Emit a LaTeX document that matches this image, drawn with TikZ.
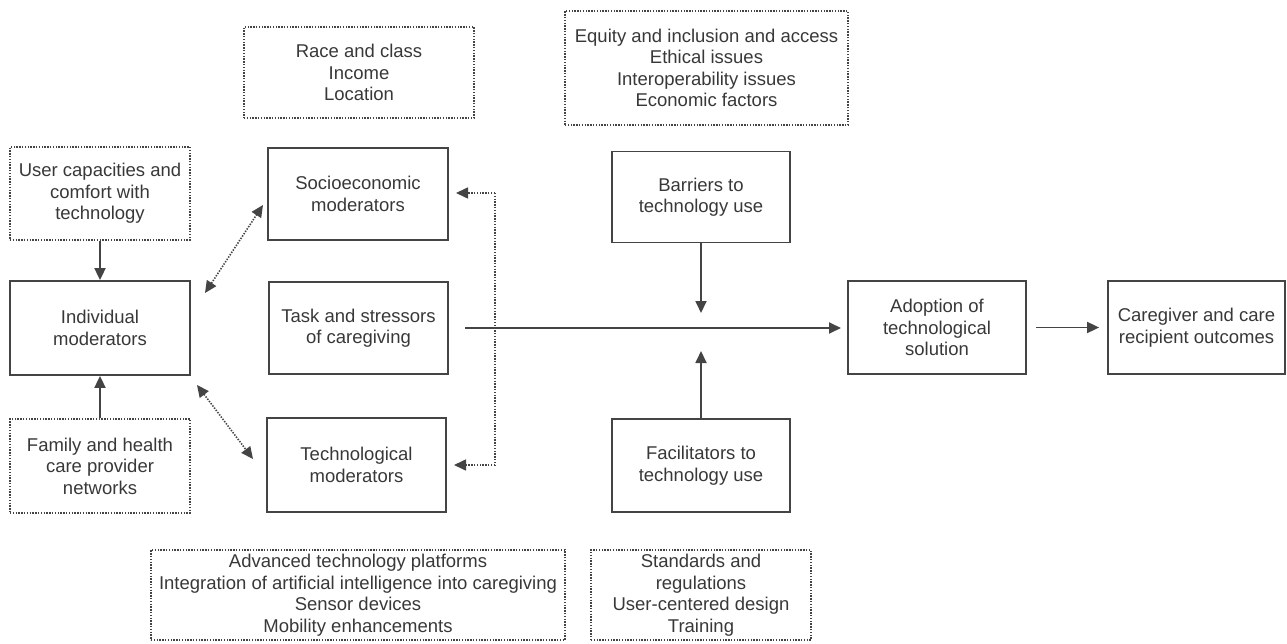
\documentclass[tikz,border=0pt]{standalone}
\usepackage{fontspec}
\setmainfont{Liberation Sans}
\usetikzlibrary{arrows.meta}
\definecolor{ln}{HTML}{444444}
\definecolor{tx}{HTML}{383838}
\tikzset{
  solidbox/.style={draw=ln, line width=1.8pt, inner sep=0pt, text=tx, align=center, font=\fontsize{18.5}{21.5}\selectfont},
  dotbox/.style={draw=ln, line width=1.5pt, dash pattern=on 1.4pt off 1.4pt, inner sep=0pt, text=tx, align=center, font=\fontsize{18.5}{21.5}\selectfont},
  arr/.style={draw=ln, line width=1.8pt, -{Triangle[length=12pt,width=11pt]}},
  darr/.style={draw=ln, line width=1.6pt, dash pattern=on 1.4pt off 1.4pt, {Triangle[length=12pt,width=11pt]}-{Triangle[length=12pt,width=11pt]}},
  sarr/.style={draw=ln, line width=1.6pt, dash pattern=on 1.4pt off 1.4pt, -{Triangle[length=12pt,width=11pt]}},
}
\newcommand{\bx}[6]{\node[#1, minimum width=#4pt, minimum height=#5pt] (#2) at (#3) {#6};}
\begin{document}
\begin{tikzpicture}[x=1pt,y=-1pt]
\useasboundingbox (0,0) rectangle (1287,644);
% dotted context boxes
\bx{dotbox}{race}{359,72.5}{230}{91}{Race and class\\Income\\Location}
\bx{dotbox}{equity}{706.5,68}{283}{114}{Equity and inclusion and access\\Ethical issues\\Interoperability issues\\Economic factors}
\bx{dotbox}{user}{100,193.5}{180}{93}{User capacities and\\comfort with\\technology}
\bx{dotbox}{family}{100,466}{180}{94}{Family and health\\care provider\\networks}
\bx{dotbox}{adv}{358,595}{414}{90}{Advanced technology platforms\\Integration of artificial intelligence into caregiving\\Sensor devices\\Mobility enhancements}
\bx{dotbox}{std}{701,595}{220}{90}{Standards and\\regulations\\User-centered design\\Training}
% solid boxes
\bx{solidbox}{indiv}{100,328}{180}{94}{Individual\\moderators}
\bx{solidbox}{socio}{358,194}{180}{92}{Socioeconomic\\moderators}
\bx{solidbox}{task}{358.5,328}{179}{92}{Task and stressors\\of caregiving}
\bx{solidbox}{techm}{356.5,465}{179}{94}{Technological\\moderators}
\bx{solidbox}{barr}{701,197}{178}{91}{Barriers to\\technology use}
\bx{solidbox}{facil}{701,465.5}{178}{93}{Facilitators to\\technology use}
\bx{solidbox}{adopt}{937,327.5}{178}{93}{Adoption of\\technological\\solution}
\bx{solidbox}{care}{1196.5,327.5}{177}{93}{Caregiver and care\\recipient outcomes}
% coordinates
\coordinate (mainA) at (465,328);
\coordinate (mainB) at (841,328);
\coordinate (bTip) at (701,313);
\coordinate (fTip) at (701,351);
\coordinate (d1a) at (205,293);
\coordinate (d1b) at (263,205);
\coordinate (d2a) at (197,385);
\coordinate (d2b) at (253,459);
\coordinate (brTop) at (495,193);
\coordinate (brBot) at (495,465);
\coordinate (tipTop) at (456,193);
\coordinate (tipBot) at (454,465);
% connectors
\draw[arr] (user.south) -- (indiv.north);
\draw[arr] (family.north) -- (indiv.south);
\draw[darr] (d1a) -- (d1b);
\draw[darr] (d2a) -- (d2b);
\draw[sarr] (brTop) -- (tipTop);
\draw[sarr] (brBot) -- (tipBot);
\draw[draw=ln, line width=1.6pt, dash pattern=on 1.4pt off 1.4pt] (brTop) -- (brBot);
\draw[arr] (mainA) -- (mainB);
\draw[arr] (barr.south) -- (bTip);
\draw[arr] (facil.north) -- (fTip);
\draw[arr] ([xshift=9pt]adopt.east) -- ([xshift=-8pt]care.west);
\end{tikzpicture}
\end{document}
